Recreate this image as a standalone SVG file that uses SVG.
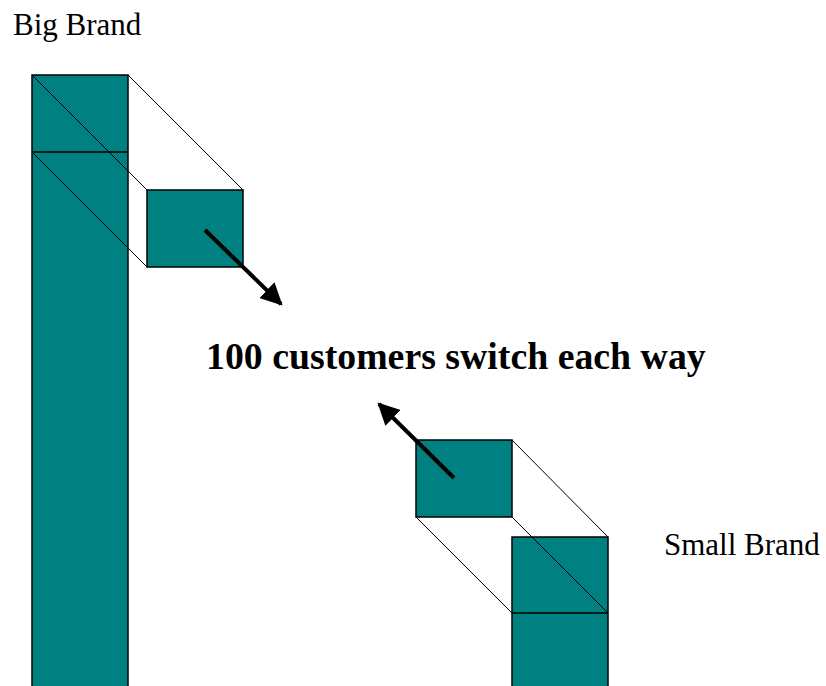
<svg xmlns="http://www.w3.org/2000/svg" width="826" height="686" viewBox="0 0 826 686">
<style>
.box{fill:#008080;stroke:#000;stroke-width:1.5}
.ln{stroke:#000;stroke-width:1;fill:none}
.arr{stroke:#000;stroke-width:4;fill:none}
.t{font-family:"Liberation Serif",serif;fill:#000}
</style>
<defs>
<marker id="ah" viewBox="0 0 10 10" refX="9" refY="5" markerWidth="5.5" markerHeight="5.5" orient="auto" markerUnits="strokeWidth">
<path d="M0,0 L10,5 L0,10 z" fill="#000"/>
</marker>
</defs>
<rect width="826" height="686" fill="#fff"/>
<text class="t" x="13" y="35" font-size="31">Big Brand</text>
<text class="t" x="664" y="555" font-size="31">Small Brand</text>
<text class="t" x="206" y="369" font-size="37.8" font-weight="bold">100 customers switch each way</text>
<g id="big-brand">
<rect class="box" x="32" y="75" width="96" height="620"/>
<line class="ln" x1="32" y1="152" x2="128" y2="152" style="stroke-width:1.5"/>
</g>
<g id="big-out">
<rect class="box" x="147" y="190" width="96" height="77"/>
</g>
<g id="small-in">
<rect class="box" x="416" y="440" width="96" height="77"/>
</g>
<g id="small-brand">
<rect class="box" x="512" y="537" width="96" height="160"/>
<line class="ln" x1="512" y1="613" x2="608" y2="613" style="stroke-width:1.5"/>
</g>
<g id="connectors">
<line class="ln" x1="32" y1="75" x2="147" y2="190"/>
<line class="ln" x1="128" y1="75" x2="243" y2="190"/>
<line class="ln" x1="32" y1="152" x2="147" y2="267"/>
<line class="ln" x1="512" y1="440" x2="608" y2="537"/>
<line class="ln" x1="416" y1="517" x2="512" y2="613"/>
<line class="ln" x1="512" y1="517" x2="608" y2="613"/>
<line class="arr" x1="205" y1="230" x2="281" y2="304" marker-end="url(#ah)"/>
<line class="arr" x1="454" y1="478" x2="379" y2="404" marker-end="url(#ah)"/>
</g>
</svg>
